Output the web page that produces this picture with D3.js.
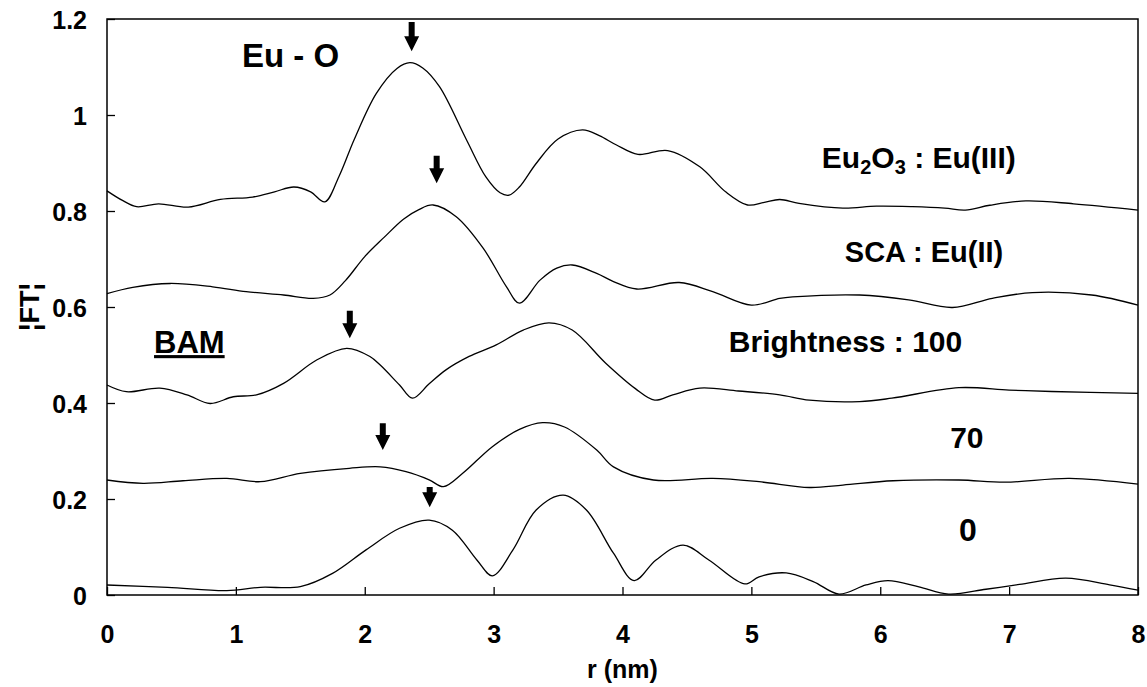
<!DOCTYPE html>
<html>
<head>
<meta charset="utf-8">
<script src="https://cdn.jsdelivr.net/npm/d3@7"></script>
<style>
  body { margin: 0; background: #fff; }
  svg text { font-family: "Liberation Sans", Arial, sans-serif; font-weight: bold; fill: #000; }
  .curve { fill: none; stroke: #000; stroke-width: 1.3; }
</style>
</head>
<body>
<svg id="viz"></svg>
<script>
/* data: [r (nm), |FT|] */
var eu2o3 = [[0,0.842],[0.12,0.822],[0.23,0.809],[0.40,0.815],[0.63,0.808],[0.88,0.824],[1.13,0.829],[1.30,0.84],[1.45,0.85],[1.58,0.84],[1.69,0.819],[1.80,0.872],[1.92,0.95],[2.09,1.045],[2.25,1.097],[2.35,1.109],[2.45,1.098],[2.58,1.059],[2.79,0.948],[2.94,0.871],[3.05,0.838],[3.12,0.833],[3.20,0.850],[3.33,0.899],[3.50,0.950],[3.69,0.969],[3.82,0.957],[3.95,0.938],[4.12,0.918],[4.35,0.926],[4.60,0.892],[4.80,0.840],[4.97,0.8125],[5.10,0.818],[5.22,0.824],[5.37,0.816],[5.71,0.806],[5.97,0.810],[6.25,0.809],[6.50,0.806],[6.66,0.802],[6.85,0.812],[7.13,0.821],[7.50,0.815],[8,0.802]];

var sca = [[0,0.628],[0.20,0.641],[0.49,0.649],[0.82,0.642],[1.08,0.632],[1.37,0.625],[1.60,0.618],[1.73,0.625],[1.85,0.655],[2.0,0.705],[2.15,0.745],[2.30,0.783],[2.42,0.803],[2.53,0.8125],[2.71,0.788],[2.92,0.722],[3.10,0.642],[3.20,0.608],[3.36,0.656],[3.49,0.681],[3.61,0.6875],[3.80,0.670],[3.93,0.653],[4.11,0.6375],[4.44,0.651],[4.70,0.632],[5.0,0.604],[5.22,0.618],[5.32,0.621],[5.84,0.625],[6.22,0.615],[6.56,0.599],[6.87,0.618],[7.18,0.630],[7.64,0.625],[8,0.604]];

var bam100 = [[0,0.4375],[0.15,0.4235],[0.41,0.431],[0.62,0.417],[0.80,0.399],[0.98,0.413],[1.16,0.417],[1.37,0.441],[1.63,0.49],[1.86,0.514],[2.04,0.497],[2.12,0.479],[2.27,0.4375],[2.37,0.41],[2.50,0.44],[2.63,0.469],[2.81,0.497],[3.02,0.521],[3.23,0.552],[3.43,0.567],[3.61,0.552],[3.87,0.483],[4.10,0.43],[4.25,0.406],[4.39,0.417],[4.60,0.431],[4.90,0.425],[5.22,0.417],[5.45,0.406],[5.84,0.403],[6.09,0.41],[6.61,0.432],[7.0,0.427],[7.33,0.424],[8,0.42]];

var bam70 = [[0,0.2396],[0.28,0.2326],[0.59,0.238],[0.93,0.243],[1.19,0.236],[1.50,0.2535],[1.88,0.264],[2.12,0.267],[2.32,0.257],[2.50,0.24],[2.61,0.2257],[2.76,0.2535],[2.99,0.309],[3.20,0.345],[3.38,0.359],[3.55,0.35],[3.80,0.302],[3.93,0.267],[4.24,0.2396],[4.70,0.243],[5.06,0.236],[5.45,0.224],[5.71,0.229],[6.10,0.238],[6.61,0.2396],[6.97,0.235],[7.47,0.243],[8,0.231]];

var bam0 = [[0,0.0208],[0.47,0.016],[0.93,0.009],[1.19,0.016],[1.50,0.0174],[1.75,0.045],[2.01,0.094],[2.27,0.139],[2.50,0.156],[2.68,0.135],[2.87,0.073],[2.99,0.040],[3.15,0.094],[3.33,0.177],[3.54,0.208],[3.72,0.177],[3.93,0.087],[4.09,0.030],[4.26,0.073],[4.47,0.104],[4.67,0.073],[4.95,0.023],[5.06,0.038],[5.27,0.046],[5.48,0.028],[5.68,0.002],[5.89,0.021],[6.06,0.030],[6.30,0.017],[6.53,0.002],[6.82,0.012],[7.08,0.022],[7.44,0.035],[7.78,0.021],[8,0.010]];

/* arrows: [r, tip |FT|, tail |FT|] */
var arrows = [[2.364,1.133,1.194],[2.558,0.858,0.915],[1.884,0.535,0.592],[2.14,0.302,0.358],[2.504,0.183,0.225]];

var xTicks = [0,1,2,3,4,5,6,7,8];
var yTicks = [0,0.2,0.4,0.6,0.8,1,1.2];

/* create svg */
var margin = { top: 19, right: 9, bottom: 92, left: 107 },
	width = 1147 - margin.left - margin.right,
	height = 687 - margin.top - margin.bottom;

var svg = d3.select('#viz')
		.attr('width', width + margin.left + margin.right)
		.attr('height', height + margin.top + margin.bottom);
var g = svg.append('g')
		.attr('transform', 'translate(' + margin.left + ',' + margin.top + ')');

var x = d3.scaleLinear().domain([0, 8]).range([0, width]);
var y = d3.scaleLinear().domain([0, 1.2]).range([height, 0]);

var xAxis = d3.axisBottom(x).tickValues(xTicks).tickSize(-8).tickFormat(d3.format('d'));
var yAxis = d3.axisLeft(y).tickValues(yTicks).tickSize(-8).tickPadding(20)
		.tickFormat(function(d){ return String(+d.toFixed(1)); });

var gx = g.append('g')
	.attr('transform', 'translate(0,' + height + ')')
	.call(xAxis);
gx.selectAll('text').attr('y', 48).attr('dy', 0).style('font-size', '25px');

var gy = g.append('g').call(yAxis);
gy.selectAll('text').attr('dy', '0.36em').style('font-size', '25px');

g.selectAll('.domain').remove();
g.selectAll('.tick line').attr('stroke', '#000').attr('stroke-width', 1.3);

g.append('rect')
	.attr('width', width).attr('height', height)
	.attr('fill', 'none').attr('stroke', '#000').attr('stroke-width', 1.5);

var line = d3.line()
	.x(function(d){ return x(d[0]); })
	.y(function(d){ return y(d[1]); })
	.curve(d3.curveCatmullRom.alpha(0.5));

[eu2o3, sca, bam100, bam70, bam0].forEach(function(series){
	g.append('path').attr('class', 'curve').attr('d', line(series));
});

/* arrows */
g.selectAll('.arrow')
	.data(arrows)
	.enter().append('path')
	.attr('class', 'arrow')
	.attr('fill', '#000')
	.attr('d', function(d){
		var cx = x(d[0]), tip = y(d[1]), tail = y(d[2]);
		var head = Math.min(15, tip - tail);
		var hw = head > 14 ? 7.5 : 7, sw = 3;
		var hb = tip - head;
		return 'M' + (cx - sw) + ',' + tail + 'H' + (cx + sw) + 'V' + hb +
			'H' + (cx + hw) + 'L' + cx + ',' + tip + 'L' + (cx - hw) + ',' + hb +
			'H' + (cx - sw) + 'Z';
	});

/* labels */
var addLabel = function(r, v, size, anchor){
	return g.append('text')
		.attr('x', x(r)).attr('y', y(v))
		.attr('text-anchor', anchor || 'start')
		.style('font-size', size + 'px');
};

addLabel(1.047, 1.1, 33).text('Eu - O');

var eu = addLabel(5.547, 0.8896, 30);
eu.append('tspan').text('Eu');
eu.append('tspan').attr('dy', 6).style('font-size', '20px').text('2');
eu.append('tspan').attr('dy', -6).text('O');
eu.append('tspan').attr('dy', 6).style('font-size', '20px').text('3');
eu.append('tspan').attr('dy', -6).text(' : Eu(III)');

addLabel(5.725, 0.694, 29).text('SCA : Eu(II)');
addLabel(0.365, 0.504, 31).attr('text-decoration', 'underline').text('BAM');
addLabel(4.825, 0.506, 30).text('Brightness : 100');
addLabel(6.672, 0.306, 30, 'middle').text('70');
addLabel(6.68, 0.1125, 32, 'middle').text('0');

/* axis titles */
g.append('text')
	.attr('x', width / 2).attr('y', height + 83)
	.attr('text-anchor', 'middle')
	.style('font-size', '25px')
	.text('r (nm)');

svg.append('text')
	.attr('transform', 'translate(39,307) rotate(-90)')
	.attr('text-anchor', 'middle')
	.style('font-size', '27px')
	.text('¦FT¦');
</script>
</body>
</html>
